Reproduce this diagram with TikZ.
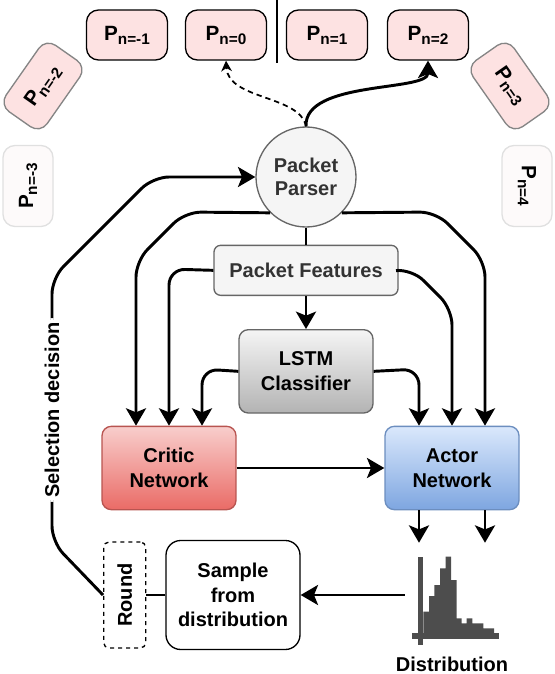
\documentclass[tikz,border=0pt]{standalone}
\usepackage{fontspec}
\setmainfont{Liberation Sans}
\usetikzlibrary{arrows.meta,calc,positioning,shapes.geometric}
\definecolor{pkpink}{RGB}{253,226,226}
\definecolor{pkfaint}{RGB}{253,250,250}
\definecolor{pkgray}{RGB}{102,102,102}
\definecolor{pktext}{RGB}{51,51,51}
\definecolor{pklight}{RGB}{245,245,245}
\definecolor{crtop}{RGB}{248,206,204}
\definecolor{crbot}{RGB}{234,107,102}
\definecolor{crline}{RGB}{184,84,80}
\definecolor{actop}{RGB}{218,232,252}
\definecolor{acbot}{RGB}{126,166,224}
\definecolor{acline}{RGB}{108,142,191}
\definecolor{lsbot}{RGB}{179,179,179}
\definecolor{histgray}{RGB}{77,77,77}
\newcommand{\pn}[1]{P\raisebox{-3pt}{\fontsize{11.5}{12}\selectfont n=#1}}
\tikzset{
  packet/.style={rounded corners=9pt,draw=black,fill=pkpink,line width=1pt,minimum width=60.75pt,minimum height=37.5pt,inner sep=0pt,font=\fontsize{15.5}{18}\selectfont\bfseries},
  oldpacket/.style={packet,draw=pkgray!80},
  gonepacket/.style={packet,draw=black!12,fill=pkfaint},
  parser/.style={circle,draw=pkgray,fill=pklight,line width=1pt,minimum size=75pt,inner sep=0pt,align=center,text=pktext,font=\fontsize{15}{17.5}\selectfont\bfseries},
  feature/.style={rounded corners=5pt,draw=pkgray,fill=pklight,line width=1pt,minimum width=138pt,minimum height=37.5pt,inner sep=0pt,text=pktext,font=\fontsize{15}{18}\selectfont\bfseries},
  netbox/.style={rounded corners=7pt,line width=1pt,minimum width=100.5pt,minimum height=62.5pt,inner sep=0pt,align=center,font=\fontsize{15}{18.5}\selectfont\bfseries},
  lstm/.style={netbox,draw=pkgray,top color=pklight,bottom color=lsbot},
  critic/.style={netbox,draw=crline,top color=crtop,bottom color=crbot},
  actor/.style={netbox,draw=acline,top color=actop,bottom color=acbot},
  sample/.style={netbox,draw=black,fill=white,rounded corners=11pt,minimum height=81.75pt},
  roundbox/.style={draw=black,dashed,rounded corners=4pt,line width=1pt,minimum width=31.5pt,minimum height=79.5pt,inner sep=0pt,font=\fontsize{15}{18}\selectfont\bfseries},
  seltag/.style={fill=white,rotate=90,inner sep=3pt,font=\fontsize{15}{18}\selectfont\bfseries},
  arr/.style={-{Stealth[length=13pt,width=15pt,inset=3pt]},line width=2.2pt,rounded corners=12pt},
  plain/.style={line width=2.2pt},
  dasharr/.style={-{Stealth[length=8pt,width=8pt,inset=2.5pt]},line width=1.3pt,dash pattern=on 4pt off 3pt},
}
\begin{document}
\begin{tikzpicture}[x=0.75pt,y=-0.75pt]
  \useasboundingbox (0,0) rectangle (554,674);
  % packet stream
  \node[gonepacket,rotate=90] (Pm3) at (28,186) {\pn{-3}};
  \node[oldpacket,rotate=55] (Pm2) at (43,86) {\pn{-2}};
  \node[packet] (Pm1) at (127,35) {\pn{-1}};
  \node[packet] (P0) at (226,35) {\pn{0}};
  \node[packet] (P1) at (327,35) {\pn{1}};
  \node[packet] (P2) at (428,35) {\pn{2}};
  \node[oldpacket,rotate=-55] (P3) at (510,86) {\pn{3}};
  \node[gonepacket,rotate=-90] (P4) at (527,186) {\pn{4}};
  \draw[line width=1pt] (277,0) -- (277,63);

  \node[parser] (Parser) at (306,177) {Packet\\Parser};
  \node[feature,below=12.75pt of Parser] (Features) {Packet Features};
  \node[lstm,below=24.75pt of Features] (LSTM) {LSTM\\Classifier};
  \node[critic] (Critic) at (169,468) {Critic\\Network};
  \node[actor] (Actor) at (452,468) {Actor\\Network};
  \node[sample] (Sample) at (233,595) {Sample\\from\\distribution};
  \node[roundbox,left=14.25pt of Sample] (Round) {\rotatebox{90}{Round}};
  \node[minimum width=70.5pt,minimum height=78pt,inner sep=0pt,label={[font=\fontsize{15}{18}\selectfont\bfseries,label distance=4pt]below:Distribution}] (Dist) at (452,595) {};

  % histogram
  \fill[histgray] (423.3,633.3) |- (429,611.7) |- (434.3,596) |- (440,585) |- (445.7,568.3) |- (451,556.7) |- (456.7,580) |- (461.7,618.3) |- (466.7,623.3) |- (472.3,618.3) |- (483.3,623.3) |- (494,628.3) -- (494,633.3) -- cycle;
  \fill[histgray] (418.3,556.7) rectangle (423.3,645);
  \fill[histgray] (411.7,633.3) rectangle (499,639.3);

  % parser outputs
  \draw[dasharr] (Parser.north) .. controls (300,95) and (228,100) .. (P0.south);
  \draw[arr] (Parser.north) .. controls (304,80) and (428,92) .. (P2.south);
  \draw[plain] (Parser) -- (Features);
  \draw[arr] (Parser.south west) -- (185,212) -- (136,261) -- ([xshift=-24.75pt]Critic.north);
  \draw[arr] (Parser.south east) -- (436,212) -- (485,261) -- ([xshift=24.75pt]Actor.north);
  \draw[arr] (Features.west) -- (169,269) -- (Critic.north);
  \draw[arr] (Features.east) -- (412,269) -- (452,309) -- (Actor.north);
  \draw[arr] (Features) -- (LSTM);
  \draw[arr] (LSTM.west) -- (202,369) -- ([xshift=24.75pt]Critic.north);
  \draw[arr] (LSTM.east) -- (419,369) -- ([xshift=-24.75pt]Actor.north);
  \draw[arr] (Critic) -- (Actor);

  % sampling loop
  \draw[arr] ([xshift=-24.75pt]Actor.south) -- ([xshift=-24.75pt]Dist.north);
  \draw[arr] ([xshift=24.75pt]Actor.south) -- ([xshift=24.75pt]Dist.north);
  \draw[arr] (Dist.west) -- (Sample.east);
  \draw[plain] (Sample) -- (Round);
  \draw[arr] (Round.west) -- (52,542) -- node[seltag] {Selection decision} (52,278) -- (153,177) -- (Parser.west);
\end{tikzpicture}
\end{document}
